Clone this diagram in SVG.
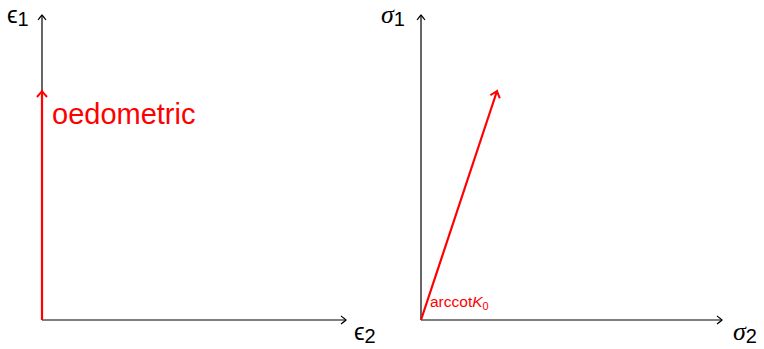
<svg xmlns="http://www.w3.org/2000/svg" width="764" height="349" viewBox="0 0 764 349">
<defs>
<style>
.ax{stroke:#000;stroke-width:1.2;fill:none}
.rd{stroke:#ff0000;stroke-width:2.2;fill:none}
.lbl{font-family:"Liberation Sans","DejaVu Sans",sans-serif;font-size:24px;fill:#000}
.sig{font-family:"Liberation Serif","DejaVu Serif",serif;font-style:italic;font-size:26px;fill:#000}
.sub{font-family:"Liberation Sans",sans-serif;font-style:normal;font-size:20px}
</style>
<marker id="ah" viewBox="-6 -5 8 10" markerWidth="8" markerHeight="10" refX="0" refY="0" orient="auto" markerUnits="userSpaceOnUse">
<path d="M-5,-4 Q-1,-1 0,0 Q-1,1 -5,4" fill="none" stroke="#000" stroke-width="1.1"/>
</marker>
<marker id="ahr" viewBox="-8 -6 10 12" markerWidth="10" markerHeight="12" refX="0" refY="0" orient="auto" markerUnits="userSpaceOnUse">
<path d="M-6,-5 Q-1.5,-1 0,0 Q-1.5,1 -6,5" fill="none" stroke="#ff0000" stroke-width="2"/>
</marker>
</defs>
<g id="connectors">
<line class="ax" x1="42" y1="320" x2="42" y2="15" marker-end="url(#ah)"/>
<line class="ax" x1="42" y1="320" x2="346" y2="320" marker-end="url(#ah)"/>
<line class="ax" x1="421" y1="320" x2="421" y2="15" marker-end="url(#ah)"/>
<line class="ax" x1="421" y1="320" x2="722" y2="320" marker-end="url(#ah)"/>
<line class="rd" x1="42" y1="320" x2="42" y2="91" marker-end="url(#ahr)"/>
<line class="rd" x1="421" y1="320" x2="497" y2="91" marker-end="url(#ahr)"/>
</g>
<g id="label-eps1"><text class="lbl" x="7" y="23">ϵ<tspan class="sub" dy="3">1</tspan></text></g>
<g id="label-eps2"><text class="lbl" x="354" y="340">ϵ<tspan class="sub" dy="3">2</tspan></text></g>
<g id="label-sig1"><text class="sig" x="381" y="23">σ<tspan class="sub" dy="3">1</tspan></text></g>
<g id="label-sig2"><text class="sig" x="733" y="340">σ<tspan class="sub" dy="3">2</tspan></text></g>
<g id="label-oedometric"><text x="52" y="124" font-family="Liberation Sans, sans-serif" font-size="29" fill="#ff0000">oedometric</text></g>
<g id="label-arccot"><text x="430" y="307" font-family="Liberation Sans, sans-serif" font-size="15.5" fill="#ff0000">arccot<tspan font-style="italic">K</tspan><tspan font-size="11" dy="3">0</tspan></text></g>
</svg>
